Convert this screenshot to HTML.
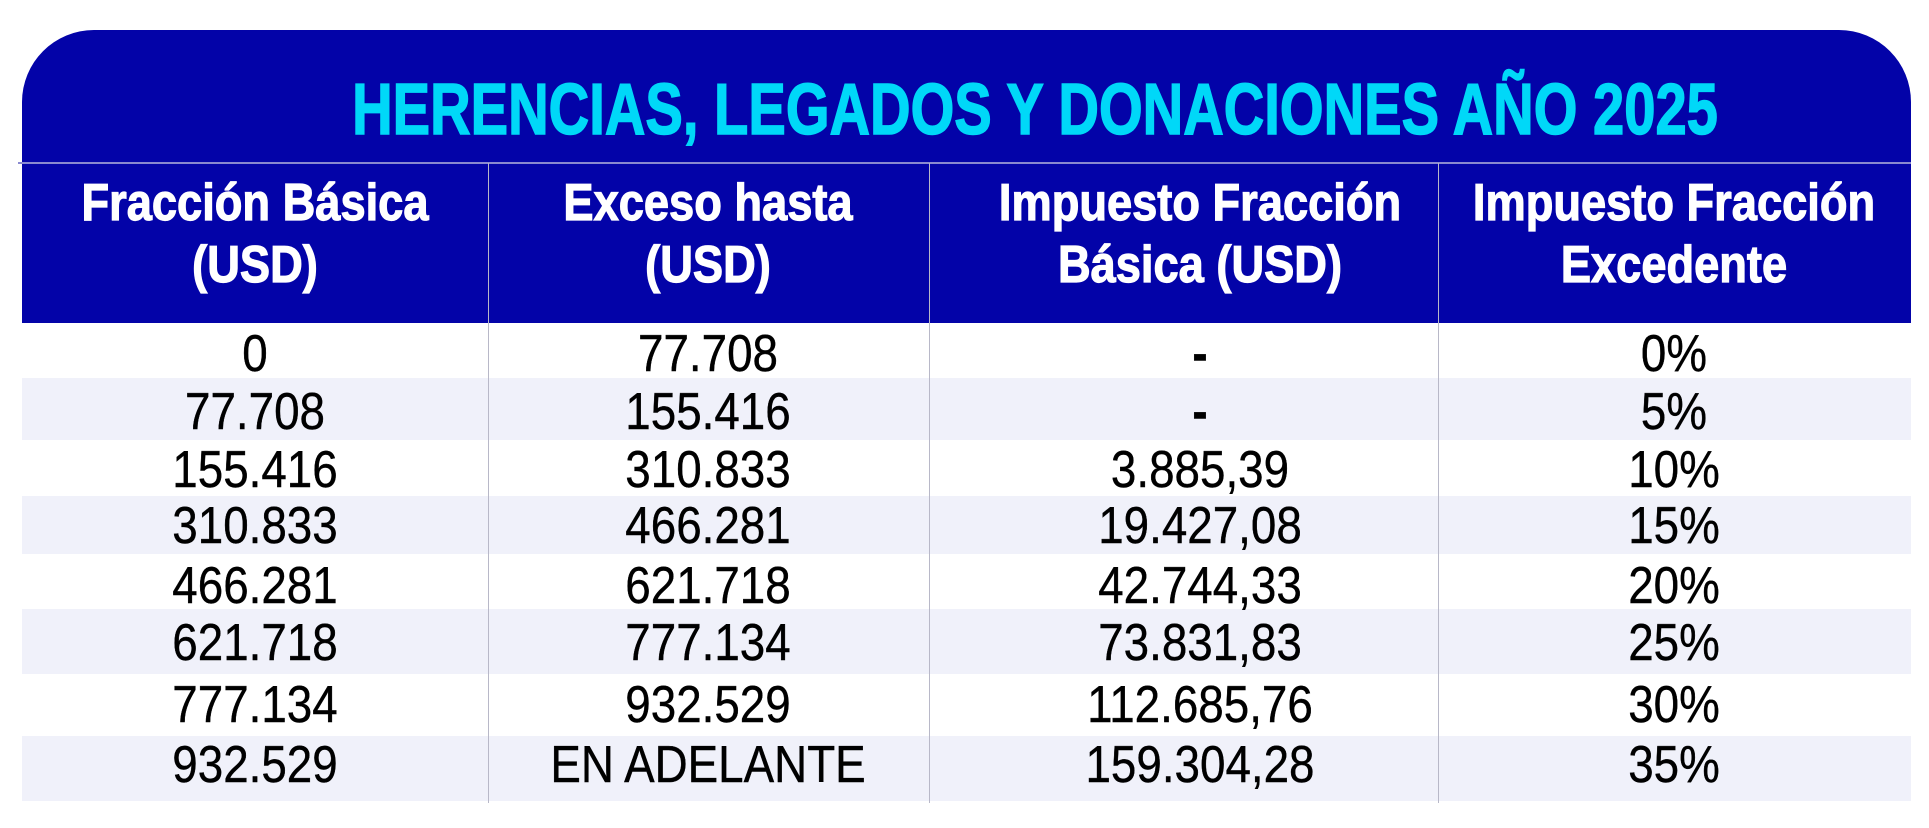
<!DOCTYPE html>
<html><head><meta charset="utf-8"><style>
body{margin:0;width:1929px;height:828px;background:#fff;position:relative;overflow:hidden;font-family:"Liberation Sans",sans-serif}
.box{position:absolute;left:22px;top:30px;width:1889px;height:293px;background:#0303a8;border-radius:72px 72px 0 0}
.hl{position:absolute;left:18px;width:1893px;top:162px;height:2px;background:#8a8ad0}
.t{position:absolute;white-space:nowrap;transform-origin:center}
.title{left:1035px;top:70px;font-size:72px;font-weight:bold;color:#00d8f8;line-height:80px;transform:translateX(-50%) scaleX(0.78);-webkit-text-stroke:1.5px #00d8f8}
.h{font-size:52px;font-weight:bold;color:#fff;line-height:62px;text-align:center;top:172px;transform:translateX(-50%) scaleX(0.87);-webkit-text-stroke:1.2px #fff}
.row{position:absolute;left:22px;width:1889px}
.sh{background:#f0f1fa}
.vl{position:absolute;width:1px;background:#b8b8c8}
.c{position:absolute;font-size:52px;color:#000;white-space:nowrap;transform:translate(-50%,-50%) scaleX(0.88);line-height:1;-webkit-text-stroke:0.4px #000}
</style></head><body>
<div class="box"></div>
<div class="hl"></div>
<div class="t title">HERENCIAS, LEGADOS Y DONACIONES AÑO 2025</div>
<div class="t h" style="left:255px">Fracción Básica<br>(USD)</div>
<div class="t h" style="left:708px">Exceso hasta<br>(USD)</div>
<div class="t h" style="left:1200px">Impuesto Fracción<br>Básica (USD)</div>
<div class="t h" style="left:1674px">Impuesto Fracción<br>Excedente</div>
<div class="row sh" style="top:378px;height:62px"></div>
<div class="row sh" style="top:496px;height:58px"></div>
<div class="row sh" style="top:609px;height:65px"></div>
<div class="row sh" style="top:736px;height:65px"></div>
<div class="vl" style="left:488px;top:163px;height:640px"></div>
<div class="vl" style="left:929px;top:163px;height:640px"></div>
<div class="vl" style="left:1438px;top:163px;height:640px"></div>
<div id="cells"></div>
<script>
var d=[["0","77.708","-","0%"],["77.708","155.416","-","5%"],["155.416","310.833","3.885,39","10%"],["310.833","466.281","19.427,08","15%"],["466.281","621.718","42.744,33","20%"],["621.718","777.134","73.831,83","25%"],["777.134","932.529","112.685,76","30%"],["932.529","EN ADELANTE","159.304,28","35%"]];
var ys=[354,412,470,526,586,643,705,765];var xs=[255,708,1200,1674];var h="";
d.forEach(function(r,i){r.forEach(function(v,j){h+='<div class="c" style="left:'+xs[j]+'px;top:'+ys[i]+'px'+(v=="-"?';font-weight:bold':'')+'">'+v+'</div>';});});
document.getElementById("cells").innerHTML=h;
</script>
</body></html>
